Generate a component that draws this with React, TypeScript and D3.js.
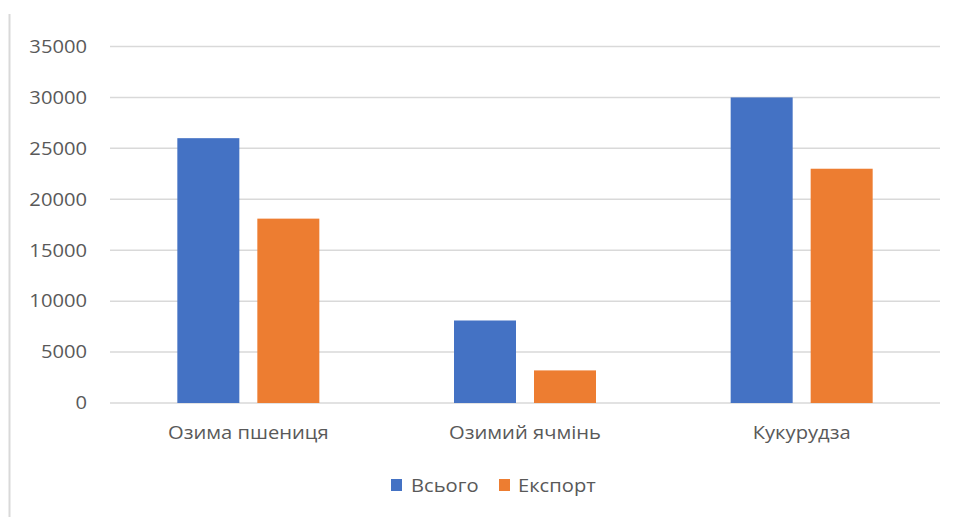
import React from "react";
import * as d3 from "d3";

const categories = ["Озима пшениця", "Озимий ячмінь", "Кукурудза"];
const seriesNames = ["Всього", "Експорт"];
const totalValues = [26000, 8100, 30000];
const exportValues = [18100, 3200, 23000];
const yTicks = [0, 5000, 10000, 15000, 20000, 25000, 30000, 35000];
const colors = ["#4472C4", "#ED7D31"];

const W = 958;
const H = 517;
const plotLeft = 110;
const plotRight = 940;
const plotTop = 46.5;
const plotBottom = 403;
const FS = 18;
const SX = 1.12;

function T(props: { x: number; y: number; anchor?: string; children: React.ReactNode; dy?: string }) {
  return (
    <text
      transform={`translate(${props.x},${props.y}) scale(${SX},1)`}
      dy={props.dy}
      textAnchor={props.anchor || "start"}
      fontSize={FS}
      fill="#595959"
    >
      {props.children}
    </text>
  );
}

export default function App() {
  const x0 = d3.scaleBand<string>().domain(categories).range([plotLeft, plotRight]).padding(0);
  const x1 = d3
    .scaleBand<string>()
    .domain(seriesNames)
    .range([0, 142])
    .paddingInner(0.225)
    .paddingOuter(0);
  const y = d3.scaleLinear().domain([0, 35000]).range([plotBottom, plotTop]);
  const seriesValues = [totalValues, exportValues];
  const font = "'Open Sans', 'Noto Sans', sans-serif";

  return (
    <svg
      width={W}
      height={H}
      style={{ position: "absolute", left: 0, top: 0, background: "#fff" }}
      fontFamily={font}
    >
      <rect x={0} y={0} width={W} height={H} fill="#fff" />
      <line x1={9.5} x2={9.5} y1={14} y2={H} stroke="#d9d9d9" strokeWidth={2} />
      {yTicks.map((t) => (
        <g key={t}>
          <line
            x1={plotLeft}
            x2={plotRight}
            y1={y(t)}
            y2={y(t)}
            stroke="#d9d9d9"
            strokeWidth={1.5}
          />
          <T x={87} y={y(t)} dy="0.35em" anchor="end">
            {t}
          </T>
        </g>
      ))}
      {categories.map((c, i) => {
        const cx = (x0(c) as number) + x0.bandwidth() / 2;
        const gx = cx - 71;
        return (
          <g key={c}>
            {seriesNames.map((s, j) => {
              const v = seriesValues[j][i];
              return (
                <rect
                  key={s}
                  x={gx + (x1(s) as number)}
                  y={y(v)}
                  width={x1.bandwidth()}
                  height={plotBottom - y(v)}
                  fill={colors[j]}
                />
              );
            })}
            <T x={cx} y={439} anchor="middle">
              {c}
            </T>
          </g>
        );
      })}
      <g>
        <rect x={391} y={479} width={11} height={12} fill={colors[0]} />
        <T x={411} y={492}>{seriesNames[0]}</T>
        <rect x={499} y={479} width={11} height={12} fill={colors[1]} />
        <T x={518} y={492}>{seriesNames[1]}</T>
      </g>
    </svg>
  );
}
